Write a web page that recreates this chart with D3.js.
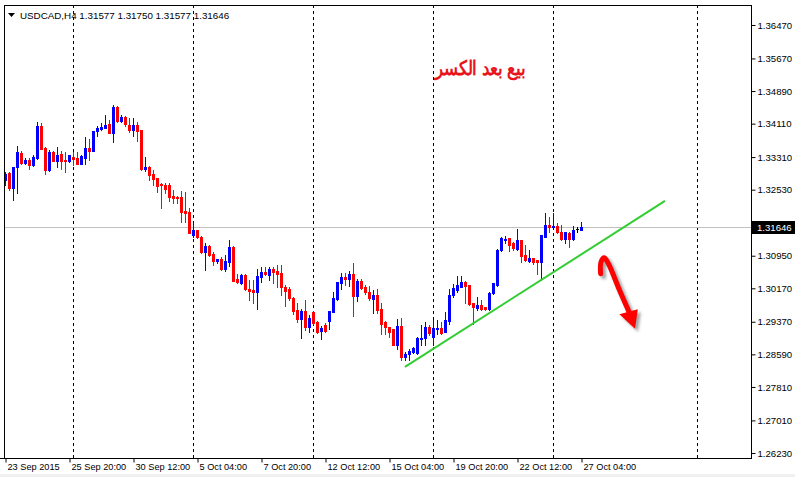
<!DOCTYPE html>
<html><head><meta charset="utf-8">
<script src="https://cdn.jsdelivr.net/npm/d3@7"></script>
<style>
html,body{margin:0;padding:0;background:#fff;}
svg{display:block;}
text{font-family:"Liberation Sans",Arial,sans-serif;}
</style></head><body>
<svg id="c" width="795" height="477"></svg>
<script>
// ---------------- data ----------------
const symbolName = "USDCAD,H4";
const opens = [
1.3276,1.3293,1.3257,1.3307,1.3341,1.3317,1.3324,1.3312,1.3329,1.3405,
1.3353,1.3300,1.3343,1.3322,1.3338,1.3324,1.3322,1.3331,1.3329,1.3315,
1.3329,1.3353,1.3346,1.3393,1.3398,1.3401,1.3410,1.3389,1.3451,1.3417,
1.3427,1.3408,1.3396,1.3408,1.3396,1.3303,1.3307,1.3291,1.3281,1.3267,
1.3264,1.3264,1.3238,1.3236,1.3236,1.3202,1.3200,1.3145,1.3157,1.3140,
1.3104,1.3118,1.3099,1.3082,1.3087,1.3063,1.3080,1.3116,1.3040,1.3030,
1.3049,1.3016,1.3013,1.3009,1.3044,1.3056,1.3049,1.3063,1.3059,1.3054,
1.3020,1.3016,1.2994,1.2965,1.2944,1.2963,1.2925,1.2961,1.2937,1.2915,
1.2929,1.2939,1.2961,1.2992,1.3030,1.3044,1.3040,1.3051,1.2999,1.3035,
1.3020,1.3009,1.2992,1.3001,1.2968,1.2937,1.2925,1.2920,1.2882,1.2927,
1.2853,1.2860,1.2865,1.2862,1.2896,1.2898,1.2925,1.2901,1.2920,1.2922,
1.2913,1.2939,1.3001,1.3013,1.3020,1.3032,1.3025,1.2982,1.2970,1.2977,
1.2973,1.2968,1.3006,1.3025,1.3109,1.3133,1.3137,1.3126,1.3111,1.3133,
1.3097,1.3082,1.3090,1.3085,1.3080,1.3140,1.3169,1.3164,1.3166,1.3152,
1.3135,1.3149,1.3135,1.3158,1.31577];
const highs = [
1.3295,1.3295,1.3307,1.3358,1.3346,1.3329,1.3329,1.3336,1.3415,1.3413,
1.3355,1.3348,1.3346,1.3355,1.3346,1.3343,1.3336,1.3343,1.3343,1.3336,
1.3379,1.3374,1.3393,1.3405,1.3413,1.3432,1.3420,1.3456,1.3453,1.3432,
1.3429,1.3424,1.3424,1.3415,1.3396,1.3331,1.3310,1.3300,1.3281,1.3269,
1.3269,1.3269,1.3252,1.3238,1.3250,1.3248,1.3209,1.3173,1.3157,1.3142,
1.3126,1.3121,1.3104,1.3087,1.3092,1.3097,1.3133,1.3118,1.3051,1.3051,
1.3051,1.3037,1.3037,1.3063,1.3068,1.3068,1.3068,1.3068,1.3073,1.3073,
1.3025,1.3020,1.2997,1.2982,1.2968,1.2989,1.2954,1.2963,1.2939,1.2927,
1.2934,1.2963,1.3009,1.3032,1.3054,1.3054,1.3059,1.3078,1.3040,1.3040,
1.3025,1.3023,1.3013,1.3016,1.2982,1.2939,1.2925,1.2920,1.2944,1.2946,
1.2865,1.2872,1.2877,1.2901,1.2929,1.2937,1.2929,1.2941,1.2941,1.2937,
1.2961,1.3016,1.3028,1.3047,1.3047,1.3035,1.3025,1.2982,1.2997,1.2989,
1.2973,1.3009,1.3030,1.3111,1.3140,1.3142,1.3137,1.3128,1.3159,1.3133,
1.3121,1.3109,1.3090,1.3085,1.3145,1.3197,1.3188,1.3197,1.3173,1.3169,
1.3152,1.3152,1.3166,1.3164,1.31750];
const lows = [
1.3264,1.3252,1.3228,1.3245,1.3315,1.3315,1.3303,1.3310,1.3327,1.3350,
1.3291,1.3298,1.3322,1.3307,1.3303,1.3295,1.3319,1.3312,1.3315,1.3315,
1.3315,1.3324,1.3346,1.3382,1.3396,1.3401,1.3389,1.3367,1.3415,1.3415,
1.3405,1.3391,1.3382,1.3370,1.3300,1.3298,1.3276,1.3264,1.3248,1.3209,
1.3245,1.3226,1.3221,1.3221,1.3176,1.3176,1.3149,1.3140,1.3137,1.3102,
1.3061,1.3094,1.3073,1.3078,1.3061,1.3059,1.3071,1.3035,1.3030,1.3028,
1.3013,1.2989,1.2982,1.2968,1.3032,1.3049,1.3037,1.3030,1.3020,1.3001,
1.2975,1.2989,1.2956,1.2937,1.2898,1.2917,1.2913,1.2932,1.2910,1.2896,
1.2913,1.2920,1.2961,1.2989,1.3016,1.3025,1.3023,1.2951,1.2987,1.3016,
1.3004,1.2989,1.2958,1.2958,1.2908,1.2908,1.2901,1.2882,1.2872,1.2845,
1.2845,1.2845,1.2862,1.2860,1.2882,1.2882,1.2906,1.2882,1.2908,1.2908,
1.2913,1.2932,1.2997,1.3009,1.3020,1.2982,1.2977,1.2932,1.2965,1.2965,
1.2965,1.2965,1.3004,1.3023,1.3106,1.3126,1.3106,1.3109,1.3109,1.3080,
1.3082,1.3080,1.3075,1.3051,1.3037,1.3140,1.3152,1.3164,1.3149,1.3133,
1.3126,1.3116,1.3133,1.3152,1.31577];
const closes = [
1.3291,1.3257,1.3307,1.3343,1.3317,1.3324,1.3312,1.3331,1.3405,1.3350,
1.3300,1.3343,1.3322,1.3336,1.3322,1.3322,1.3336,1.3327,1.3315,1.3334,
1.3353,1.3346,1.3393,1.3401,1.3403,1.3408,1.3389,1.3451,1.3417,1.3427,
1.3410,1.3396,1.3408,1.3393,1.3303,1.3307,1.3288,1.3279,1.3262,1.3264,
1.3255,1.3236,1.3233,1.3233,1.3200,1.3197,1.3149,1.3157,1.3140,1.3104,
1.3118,1.3097,1.3082,1.3087,1.3063,1.3082,1.3116,1.3035,1.3032,1.3049,
1.3016,1.3011,1.3009,1.3047,1.3056,1.3051,1.3063,1.3056,1.3051,1.3020,
1.3011,1.2994,1.2963,1.2944,1.2963,1.2925,1.2946,1.2934,1.2913,1.2922,
1.2915,1.2963,1.2994,1.3032,1.3044,1.3040,1.3051,1.2999,1.3035,1.3018,
1.3009,1.2994,1.3001,1.2965,1.2932,1.2925,1.2913,1.2882,1.2927,1.2853,
1.2860,1.2867,1.2874,1.2898,1.2898,1.2925,1.2910,1.2922,1.2922,1.2910,
1.2941,1.3001,1.3018,1.3025,1.3032,1.3023,1.2980,1.2973,1.2977,1.2968,
1.2968,1.3006,1.3030,1.3109,1.3137,1.3135,1.3121,1.3114,1.3133,1.3094,
1.3085,1.3090,1.3080,1.3080,1.3145,1.3169,1.3164,1.3166,1.3152,1.3135,
1.3152,1.3135,1.3157,1.3158,1.31646];

const yTickValues = [1.36470,1.35670,1.34890,1.34110,1.33310,1.32530,1.31730,
                     1.30950,1.30170,1.29370,1.28590,1.27810,1.27010,1.26230];
const xTickBars   = [0,16,32,48,64,80,96,112,128,144];
const xTickLabels = ["23 Sep 2015","25 Sep 20:00","30 Sep 12:00","5 Oct 04:00","7 Oct 20:00",
                     "12 Oct 12:00","15 Oct 04:00","19 Oct 20:00","22 Oct 12:00","27 Oct 04:00"];
const separatorBars = [17,47,77,107,137,173];

const trendBars   = [100,165];
const trendPrices = [1.2829,1.3226];

const arrowBars   = [148.9,149.0,149.8,150.8,153.6,156.6];
const arrowPrices = [1.3052,1.3080,1.3090,1.3077,1.3013,1.2948];
const arrowHeadBars   = [153.6,157.5,158.2];
const arrowHeadPrices = [1.2955,1.2920,1.2967];

const noteText  = "بيع بعد الكسر";
const noteBar   = 118.8;
const notePrice = 1.3527;

// ---------------- drawing ----------------
const W = 795, H = 477;
const L = 4, R = 751, T = 5, B = 458;
const svg = d3.select("#c");
const defs = svg.append("defs");
const f = defs.append("filter").attr("id","blur").attr("x","-50%").attr("y","-50%").attr("width","200%").attr("height","200%");
f.append("feGaussianBlur").attr("stdDeviation",1.8);

const x = d3.scaleLinear().domain([0,186.5]).range([5,751]);
const y = d3.scaleLinear().domain([1.26230,1.36470]).range([453,25]);

svg.append("rect").attr("width",W).attr("height",H).attr("fill","#ffffff");
svg.append("rect").attr("x",0).attr("y",474).attr("width",W).attr("height",3).attr("fill","#f0f0f0");

// period separators
svg.append("g").selectAll("line").data(separatorBars).join("line")
  .attr("x1",d=>Math.round(x(d))+0.5).attr("x2",d=>Math.round(x(d))+0.5)
  .attr("y1",T).attr("y2",B)
  .attr("stroke","#000").attr("stroke-width",1).attr("stroke-dasharray","3,3");

const bars = d3.range(opens.length).map(i=>({i,o:opens[i],h:highs[i],l:lows[i],c:closes[i]}));
const last = bars[bars.length-1];

// current price line
svg.append("line").attr("x1",L).attr("x2",R)
  .attr("y1",Math.round(y(last.c))+0.5).attr("y2",Math.round(y(last.c))+0.5)
  .attr("stroke","#c0c0c0").attr("stroke-width",1);

// candles
const col = d => d.c>d.o ? "#0000ff" : (d.c<d.o ? "#ff0000" : "#000000");
const cg = svg.append("g");
cg.selectAll("rect.w").data(bars).join("rect").attr("class","w")
  .attr("x",d=>Math.round(x(d.i)))
  .attr("y",d=>Math.round(y(d.h)))
  .attr("width",1)
  .attr("height",d=>Math.max(1,Math.round(y(d.l))-Math.round(y(d.h))+1))
  .attr("fill",col);
cg.selectAll("rect.b").data(bars).join("rect").attr("class","b")
  .attr("x",d=>Math.round(x(d.i))-1)
  .attr("y",d=>Math.round(y(Math.max(d.o,d.c))))
  .attr("width",3)
  .attr("height",d=>Math.max(1,Math.round(y(Math.min(d.o,d.c)))-Math.round(y(Math.max(d.o,d.c)))+1))
  .attr("fill",col);

// trend line
svg.append("line")
  .attr("x1",x(trendBars[0])).attr("y1",y(trendPrices[0]))
  .attr("x2",x(trendBars[1])).attr("y2",y(trendPrices[1]))
  .attr("stroke","#32cd32").attr("stroke-width",2);

// frame
svg.append("line").attr("x1",L+0.5).attr("x2",L+0.5).attr("y1",T).attr("y2",B).attr("stroke","#000");
svg.append("line").attr("x1",L).attr("x2",R).attr("y1",T+0.5).attr("y2",T+0.5).attr("stroke","#000");
svg.append("line").attr("x1",R+0.5).attr("x2",R+0.5).attr("y1",T).attr("y2",B+1).attr("stroke","#000");
svg.append("line").attr("x1",0).attr("x2",R+1).attr("y1",B+0.5).attr("y2",B+0.5).attr("stroke","#000");

// y axis
const ya = svg.append("g").attr("transform",`translate(${R+0.5},0)`)
  .call(d3.axisRight(y).tickValues(yTickValues).tickFormat(d3.format(".5f")).tickSize(4).tickPadding(2));
ya.select(".domain").remove();
ya.selectAll("line").attr("stroke","#000");
ya.selectAll("text").attr("font-size","9.6px").attr("fill","#000")
  .attr("font-family","'Liberation Sans',Arial,sans-serif");

// x axis
const xa = svg.append("g").attr("transform",`translate(0.5,${B+0.5})`)
  .call(d3.axisBottom(x).tickValues(xTickBars).tickFormat((d,i)=>xTickLabels[i]).tickSize(4).tickPadding(1));
xa.select(".domain").remove();
xa.selectAll("line").attr("stroke","#000");
xa.selectAll("text").attr("font-size","9.2px").attr("fill","#000").attr("text-anchor","start").attr("dx","1.5")
  .attr("font-family","'Liberation Sans',Arial,sans-serif");

// price box
const py = Math.round(y(last.c));
svg.append("rect").attr("x",R+1).attr("y",py-6).attr("width",W-R-1).attr("height",13).attr("fill","#000");
svg.append("text").attr("x",R+6).attr("y",py+4).attr("fill","#fff").attr("font-size","9.6px")
  .text(d3.format(".5f")(last.c));

// header
svg.append("path").attr("d","M8,13 L15,13 L11.5,17 Z").attr("fill","#000");
svg.append("text").attr("x",20).attr("y",19).attr("font-size","9.8px").attr("fill","#000")
  .text(`${symbolName} ${[last.o,last.h,last.l,last.c].map(d3.format(".5f")).join(" ")}`);

// red arrow with shadow
const line = d3.line().x(d=>x(d[0])).y(d=>y(d[1])).curve(d3.curveCatmullRom);
const apts = arrowBars.map((b,k)=>[b,arrowPrices[k]]);
const hpts = arrowHeadBars.map((b,k)=>[b,arrowHeadPrices[k]]);
const head = "M"+hpts.map(p=>x(p[0])+","+y(p[1])).join("L")+"Z";
const sh = svg.append("g").attr("transform","translate(3,3)").attr("filter","url(#blur)").attr("opacity",0.6);
sh.append("path").attr("d",line(apts)).attr("fill","none").attr("stroke","#666").attr("stroke-width",5).attr("stroke-linecap","round");
sh.append("path").attr("d",head).attr("fill","#666");
svg.append("path").attr("d",line(apts)).attr("fill","none").attr("stroke","#ff0000").attr("stroke-width",5).attr("stroke-linecap","round");
svg.append("path").attr("d",head).attr("fill","#ff0000");

// arabic note
const nx = x(noteBar), ny = y(notePrice);
const nt = svg.append("text").attr("x",0).attr("y",0)
  .attr("text-anchor","middle").attr("font-size","20px").attr("font-weight","bold")
  .attr("font-family","'DejaVu Sans',sans-serif").attr("fill","#e8141c").attr("direction","rtl")
  .text(noteText);
const len = nt.node().getComputedTextLength();
const sx = len>0 ? 94/len : 1;
nt.attr("transform",`translate(${nx},${ny}) scale(${sx.toFixed(3)},1)`);
</script></body></html>
